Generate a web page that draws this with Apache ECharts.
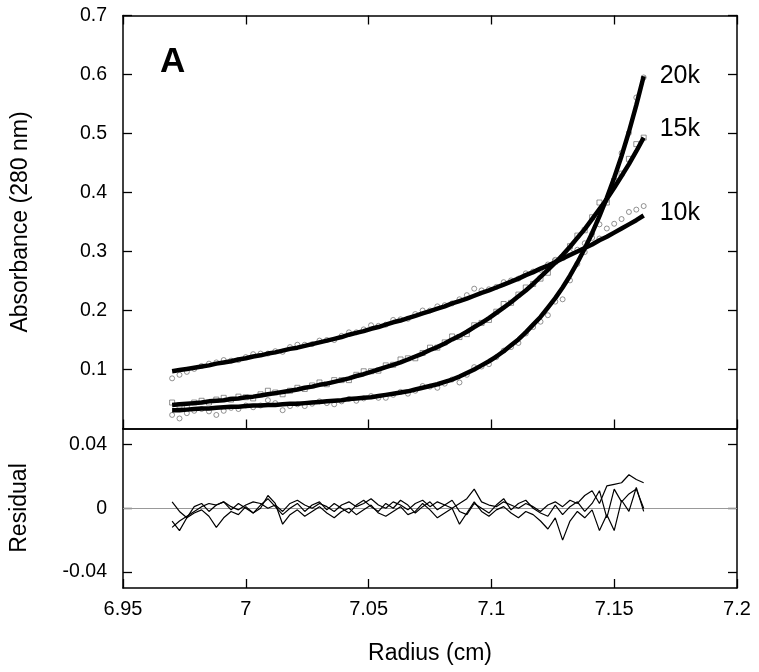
<!DOCTYPE html>
<html>
<head>
<meta charset="utf-8">
<script src="https://cdn.jsdelivr.net/npm/echarts@6/dist/echarts.min.js"></script>
<style>
html,body{margin:0;padding:0;background:#fff;}
#chart{width:759px;height:672px;}
</style>
</head>
<body>
<div id="chart"></div>
<script>
// ---- data ----
const radius = [6.970,6.973,6.976,6.979,6.982,6.985,6.988,6.991,6.994,6.997,
7.000,7.003,7.006,7.009,7.012,7.015,7.018,7.021,7.024,7.027,
7.030,7.033,7.036,7.039,7.042,7.045,7.048,7.051,7.054,7.057,
7.060,7.063,7.066,7.069,7.072,7.075,7.078,7.081,7.084,7.087,
7.090,7.093,7.096,7.099,7.102,7.105,7.108,7.111,7.114,7.117,
7.120,7.123,7.126,7.129,7.132,7.135,7.138,7.141,7.144,7.147,
7.150,7.153,7.156,7.159,7.162];

const fit10k = [0.097,0.099,0.101,0.103,0.105,0.107,0.110,0.112,0.114,0.117,
0.119,0.122,0.124,0.127,0.129,0.132,0.135,0.137,0.140,0.143,
0.146,0.149,0.152,0.155,0.159,0.162,0.165,0.169,0.172,0.176,
0.180,0.183,0.187,0.191,0.195,0.199,0.203,0.207,0.212,0.216,
0.220,0.225,0.230,0.234,0.239,0.244,0.249,0.254,0.260,0.265,
0.271,0.276,0.282,0.288,0.294,0.300,0.306,0.312,0.319,0.325,
0.332,0.339,0.346,0.353,0.361];

const fit15k = [0.040,0.041,0.042,0.043,0.044,0.046,0.047,0.048,0.050,0.051,
0.053,0.054,0.056,0.058,0.060,0.062,0.064,0.066,0.069,0.071,
0.074,0.076,0.079,0.082,0.085,0.089,0.092,0.096,0.100,0.104,
0.108,0.112,0.117,0.122,0.127,0.133,0.138,0.144,0.151,0.157,
0.164,0.172,0.179,0.187,0.196,0.205,0.214,0.224,0.234,0.245,
0.257,0.269,0.281,0.294,0.308,0.323,0.338,0.355,0.372,0.389,
0.408,0.428,0.448,0.470,0.493];

const fit20k = [0.031,0.031,0.032,0.033,0.034,0.034,0.035,0.036,0.037,0.037,
0.038,0.039,0.039,0.040,0.040,0.041,0.042,0.042,0.043,0.044,
0.045,0.046,0.047,0.048,0.050,0.051,0.052,0.053,0.055,0.057,
0.059,0.061,0.063,0.066,0.069,0.072,0.075,0.079,0.083,0.088,
0.094,0.100,0.107,0.114,0.122,0.131,0.141,0.151,0.163,0.176,
0.189,0.205,0.221,0.239,0.259,0.281,0.305,0.331,0.360,0.391,
0.425,0.462,0.503,0.548,0.597];

const resid10k = [-0.012,-0.008,-0.005,-0.002,0.001,0.003,0.002,0.004,0.001,-0.001,
0.002,0.004,0.003,0.000,0.002,-0.002,0.003,0.005,0.002,0.000,
0.003,0.001,-0.002,0.002,0.004,0.001,0.003,0.006,0.002,0.000,
0.004,0.002,-0.001,0.003,0.005,0.001,0.004,0.002,0.000,0.003,
0.006,0.012,0.004,0.002,0.001,0.004,0.002,0.000,0.003,0.001,
-0.002,0.002,0.004,0.001,0.005,0.003,0.008,0.011,0.003,0.014,
0.015,0.016,0.021,0.018,0.016];

const resid15k = [0.004,-0.002,-0.006,0.001,0.003,-0.002,0.002,0.004,-0.001,0.003,
0.000,-0.003,0.002,0.006,0.001,-0.004,0.000,0.003,-0.002,0.002,
0.004,-0.001,0.003,0.000,-0.003,0.002,0.005,0.001,-0.002,0.003,
0.000,0.005,0.002,-0.003,0.001,0.004,-0.001,0.002,0.005,-0.002,
-0.004,0.003,0.000,-0.003,0.002,0.006,-0.001,0.003,0.005,0.000,
-0.003,-0.005,0.002,-0.004,0.001,0.004,-0.002,0.003,0.011,-0.006,
0.012,0.004,0.009,0.012,0.000];

const resid20k = [-0.008,-0.014,-0.006,-0.003,-0.001,-0.005,-0.012,-0.006,-0.002,-0.004,
0.001,-0.003,0.000,0.008,0.003,-0.010,-0.004,-0.001,-0.005,-0.002,
0.001,-0.003,-0.006,-0.002,0.000,-0.004,-0.001,0.002,-0.003,-0.005,
-0.002,0.001,-0.004,-0.002,0.003,-0.001,-0.006,-0.003,0.000,-0.010,
-0.003,0.004,-0.002,-0.005,-0.001,0.001,-0.003,-0.006,-0.002,-0.004,
-0.008,-0.013,-0.006,-0.020,-0.008,-0.002,-0.006,-0.001,-0.014,-0.004,
-0.014,0.005,-0.002,0.013,-0.002];

const speedLabels = ['10k','15k','20k'];
const xTicks = [6.95, 7.2, 0.05];
const absTickLabels = [0.1,0.2,0.3,0.4,0.5,0.6,0.7];
const residTickLabels = [-0.04, 0, 0.04];

// ---- build ----
const pairs = (ys) => radius.map((r,i) => [r, ys[i]]);
const observed = (fit, res) => radius.map((r,i) => [r, +(fit[i] + res[i]).toFixed(4)]);

const FONT = "'Liberation Sans', Arial, sans-serif";
const axisLineStyle = {show:true, onZero:false, lineStyle:{color:'#000', width:1.5}};
const tickIn = (vals) => Object.assign({show:true, inside:false, length:-9, lineStyle:{color:'#000', width:1.3}}, vals ? {customValues: vals} : {});

function xAx(grid, pos, labels, ticks) {
  return {
    type:'value', gridIndex:grid, position:pos, min:xTicks[0], max:xTicks[1], interval:xTicks[2],
    axisLine: axisLineStyle,
    axisTick: ticks ? tickIn() : {show:false},
    axisLabel: {show:labels, color:'#000', fontSize:20, fontFamily:FONT, margin:11},
    splitLine:{show:false}
  };
}
function yAx(grid, pos, min, max, labelVals, labels) {
  return {
    type:'value', gridIndex:grid, position:pos, min:min, max:max,
    axisLine: axisLineStyle,
    axisTick: tickIn(labelVals),
    axisLabel: {show:labels, customValues:labelVals, color:'#000', fontSize:19.5, fontFamily:FONT, margin:16},
    splitLine:{show:false}
  };
}

const symbols = ['circle','rect','circle'];
const fits = [fit10k, fit15k, fit20k];
const resids = [resid10k, resid15k, resid20k];
const labelOffsets = [[0,-2],[0,-9],[0,0]];

const series = [];
fits.forEach((f,k) => {
  series.push({
    type:'scatter', name: speedLabels[k]+' data', xAxisIndex:0, yAxisIndex:0,
    data: observed(f, resids[k]), symbol: symbols[k], symbolSize: 5,
    itemStyle:{color:'#fff', borderColor:'#555', borderWidth:0.8}, z:2, silent:true
  });
});
fits.forEach((f,k) => {
  series.push({
    type:'line', name: speedLabels[k], xAxisIndex:0, yAxisIndex:0,
    data: pairs(f), symbol:'none', lineStyle:{color:'#000', width:4.5}, z:3,
    endLabel:{show:true, formatter: speedLabels[k], color:'#000', fontSize:25, fontFamily:FONT, distance:16, offset:labelOffsets[k]}
  });
});
resids.forEach((r,k) => {
  const s = {
    type:'line', name: speedLabels[k]+' residual', xAxisIndex:2, yAxisIndex:2,
    data: pairs(r), symbol:'none', lineStyle:{color:'#000', width:1.2}, z:3
  };
  if (k === 0) {
    s.markLine = {silent:true, symbol:'none', label:{show:false}, lineStyle:{color:'#999', width:1, type:'solid'},
      data:[{yAxis:0}], z:1};
  }
  series.push(s);
});

const chart = echarts.init(document.getElementById('chart'), null, {renderer:'canvas'});
chart.setOption({
  animation:false,
  backgroundColor:'#fff',
  grid:[
    {left:123, right:22, top:15.5, height:413},
    {left:123, right:22, top:428.5, height:159.5}
  ],
  xAxis:[ xAx(0,'bottom',false,true), xAx(0,'top',false,true), xAx(1,'bottom',true,true), xAx(1,'top',false,false) ],
  yAxis:[
    yAx(0,'left',0,0.7,absTickLabels,true), yAx(0,'right',0,0.7,absTickLabels,false),
    yAx(1,'left',-0.05,0.05,residTickLabels,true), yAx(1,'right',-0.05,0.05,residTickLabels,false)
  ],
  series: series,
  graphic:[
    {type:'text', x:160, y:62, style:{text:'A', font:'bold 35px '+FONT, fill:'#000', textAlign:'left', textVerticalAlign:'middle', align:'left', verticalAlign:'middle'}},
    {type:'text', x:21, y:222, rotation:Math.PI/2, style:{text:'Absorbance (280 nm)', font:'23px '+FONT, fill:'#000', textAlign:'center', textVerticalAlign:'middle', align:'center', verticalAlign:'middle'}},
    {type:'text', x:20, y:508, rotation:Math.PI/2, style:{text:'Residual', font:'23px '+FONT, fill:'#000', textAlign:'center', textVerticalAlign:'middle', align:'center', verticalAlign:'middle'}},
    {type:'text', x:430, y:654, style:{text:'Radius (cm)', font:'23px '+FONT, fill:'#000', textAlign:'center', textVerticalAlign:'middle', align:'center', verticalAlign:'middle'}}
  ]
});
</script>
</body>
</html>
